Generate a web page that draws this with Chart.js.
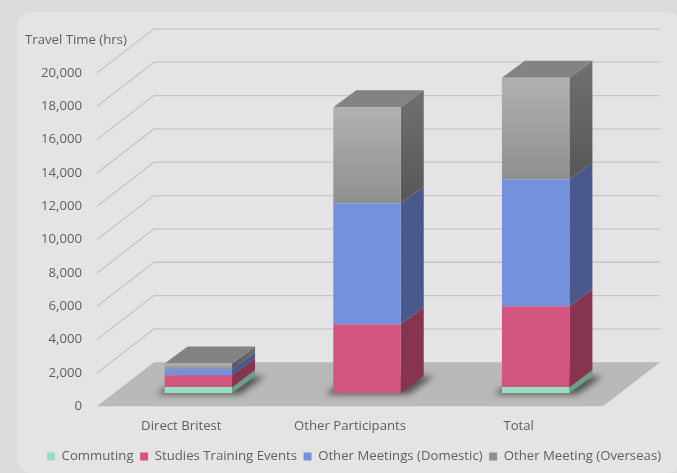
<!DOCTYPE html>
<html>
<head>
<meta charset="utf-8">
<title>Travel Time</title>
<script src="https://cdn.jsdelivr.net/npm/chart.js@4/dist/chart.umd.js"></script>
<style>
    html, body { margin: 0; padding: 0; background: #dcdcdc; overflow: hidden; }
    #card { position: absolute; left: 17px; top: 12px; width: 664px; height: 461px; background: #e4e4e4; border-radius: 14px; }
    #wrap { position: absolute; left: 0; top: 0; width: 677px; height: 473px; }
</style>
</head>
<body>
<div id="card"></div>
<div id="wrap"><canvas id="travelChart" width="677" height="473"></canvas></div>
<script>
const categories = ['Direct Britest', 'Other Participants', 'Total'];
const commuting = [380, 0, 380];
const studiesTraining = [700, 4140, 4840];
const meetingsDomestic = [360, 7250, 7610];
const meetingsOverseas = [340, 5760, 6100];

// front colour, side colour
const greenFace = '#97dfbc', greenSide = '#6a9f86';
const redFace = '#d2557f', redSide = '#86344f';
const blueFace = '#7391dc', blueSide = '#49598c';
const greyTop = '#838383';

const textColor = '#5f5f5f';
const fontFamily = '"Open Sans", sans-serif';
const fontSize = 13.2;

// bars sit in the plot area; the floor runs from floorFront to floorBack around it
const floorFront = { dx: -17, dy: 13 };
const floorBack = { dx: 40, dy: -31 };
const barDepth = { dx: 23, dy: -17 };

function overseasFace(context) {
    const { ctx, chartArea, scales } = context.chart;
    // legend swatch asks without a data index
    if (!chartArea || context.type !== 'data') return '#a5a5a5';
    const i = context.dataIndex;
    const below = commuting[i] + studiesTraining[i] + meetingsDomestic[i];
    const g = ctx.createLinearGradient(0, scales.y.getPixelForValue(below + meetingsOverseas[i]), 0, scales.y.getPixelForValue(below));
    g.addColorStop(0, '#b1b1b1');
    g.addColorStop(1, '#8f8f8f');
    return g;
}

const depthPlugin = {
    id: 'depth',
    afterLayout(chart) {
        // title and legend are free of the plot's left edge
        chart.titleBlock.left += 25;
        chart.titleBlock.right += 25;
        chart.legend.left += 40.5;
        chart.legend.right += 40.5;
    },
    beforeDatasetsDraw(chart) {
        const { ctx, chartArea, scales } = chart;
        const { left, right } = chartArea;

        // slanted wall lines, then the back wall lines
        ctx.save();
        ctx.strokeStyle = '#c6c6c6';
        ctx.lineWidth = 1.3;
        scales.y.ticks.forEach(t => {
            if (t.value === 0) return;
            const py = scales.y.getPixelForValue(t.value);
            ctx.beginPath();
            ctx.moveTo(left + floorFront.dx, py + floorFront.dy);
            ctx.lineTo(left + floorBack.dx, py + floorBack.dy);
            ctx.lineTo(right + floorBack.dx, py + floorBack.dy);
            ctx.stroke();
        });

        // floor
        const zero = scales.y.getPixelForValue(0);
        ctx.fillStyle = '#b9b9b9';
        ctx.beginPath();
        ctx.moveTo(left + floorFront.dx, zero + floorFront.dy);
        ctx.lineTo(left + floorBack.dx, zero + floorBack.dy);
        ctx.lineTo(right + floorBack.dx, zero + floorBack.dy);
        ctx.lineTo(right + floorFront.dx, zero + floorFront.dy);
        ctx.closePath();
        ctx.fill();

        // soft shadow under each stack
        const first = chart.getDatasetMeta(0).data;
        ctx.filter = 'blur(3px)';
        ctx.fillStyle = 'rgba(50,50,50,0.75)';
        first.forEach(el => {
            const x0 = el.x - el.width / 2, x1 = el.x + el.width / 2;
            ctx.beginPath();
            ctx.moveTo(x0 - 8, zero + 1);
            ctx.lineTo(x0 + barDepth.dx - 6, zero + barDepth.dy);
            ctx.lineTo(x1 + barDepth.dx + 10, zero + barDepth.dy);
            ctx.lineTo(x1 + 8, zero + 1);
            ctx.closePath();
            ctx.fill();
        });
        ctx.filter = 'none';

        // side and top faces of the stacks
        chart.data.datasets.forEach((ds, i) => {
            chart.getDatasetMeta(i).data.forEach((el, j) => {
                if (ds.data[j] === 0) return;
                const xr = el.x + el.width / 2;
                const yt = el.y, yb = el.base;
                if (ds.sideColor) {
                    ctx.fillStyle = ds.sideColor;
                } else {
                    const g = ctx.createLinearGradient(0, yt + barDepth.dy, 0, yb);
                    g.addColorStop(0, '#707070');
                    g.addColorStop(1, '#575757');
                    ctx.fillStyle = g;
                }
                ctx.beginPath();
                ctx.moveTo(xr, yt);
                ctx.lineTo(xr + barDepth.dx, yt + barDepth.dy);
                ctx.lineTo(xr + barDepth.dx, yb + barDepth.dy);
                ctx.lineTo(xr, yb);
                ctx.closePath();
                ctx.fill();
            });
        });
        const lastMeta = chart.getDatasetMeta(chart.data.datasets.length - 1).data;
        ctx.fillStyle = greyTop;
        lastMeta.forEach(el => {
            const x0 = el.x - el.width / 2, x1 = el.x + el.width / 2;
            ctx.beginPath();
            ctx.moveTo(x0, el.y);
            ctx.lineTo(x0 + barDepth.dx, el.y + barDepth.dy);
            ctx.lineTo(x1 + barDepth.dx, el.y + barDepth.dy);
            ctx.lineTo(x1, el.y);
            ctx.closePath();
            ctx.fill();
        });
        ctx.restore();
    }
};

new Chart(document.getElementById('travelChart'), {
    type: 'bar',
    data: {
        labels: categories,
        datasets: [
            { label: 'Commuting', data: commuting, backgroundColor: greenFace, sideColor: greenSide },
            { label: 'Studies Training Events', data: studiesTraining, backgroundColor: redFace, sideColor: redSide },
            { label: 'Other Meetings (Domestic)', data: meetingsDomestic, backgroundColor: blueFace, sideColor: blueSide },
            { label: 'Other Meeting (Overseas)', data: meetingsOverseas, backgroundColor: overseasFace }
        ]
    },
    plugins: [depthPlugin],
    options: {
        responsive: false,
        animation: false,
        layout: { padding: { left: 0, right: 0, top: 0, bottom: 0 } },
        datasets: { bar: { barPercentage: 0.4, categoryPercentage: 1 } },
        plugins: {
            tooltip: { enabled: false },
            title: {
                display: true,
                text: 'Travel Time (hrs)',
                align: 'start',
                color: textColor,
                font: { family: fontFamily, size: fontSize, weight: 'normal' },
                padding: { top: 32, bottom: 12 }
            },
            legend: {
                position: 'bottom',
                align: 'start',
                labels: {
                    color: textColor,
                    font: { family: fontFamily, size: fontSize },
                    boxWidth: 8,
                    boxHeight: 8,
                    padding: 6.5
                }
            }
        },
        scales: {
            x: {
                stacked: true,
                grid: { display: false, drawTicks: false },
                border: { display: false },
                afterFit: s => { s.height = 50; },
                ticks: { color: textColor, font: { family: fontFamily, size: fontSize }, padding: 25, labelOffset: floorFront.dx, maxRotation: 0 }
            },
            y: {
                stacked: true,
                min: 0,
                max: 20000,
                grid: { display: false, drawTicks: false },
                border: { display: false },
                afterFit: s => { s.width = 114; },
                ticks: { stepSize: 2000, color: textColor, font: { family: fontFamily, size: fontSize }, padding: 32, labelOffset: floorFront.dy }
            },
            // empty axis, keeps room on the right for the back wall
            rightGap: {
                type: 'linear',
                position: 'right',
                grid: { display: false, drawTicks: false },
                border: { display: false },
                ticks: { display: false },
                afterFit: s => { s.width = 57; }
            }
        }
    }
});
</script>
</body>
</html>
